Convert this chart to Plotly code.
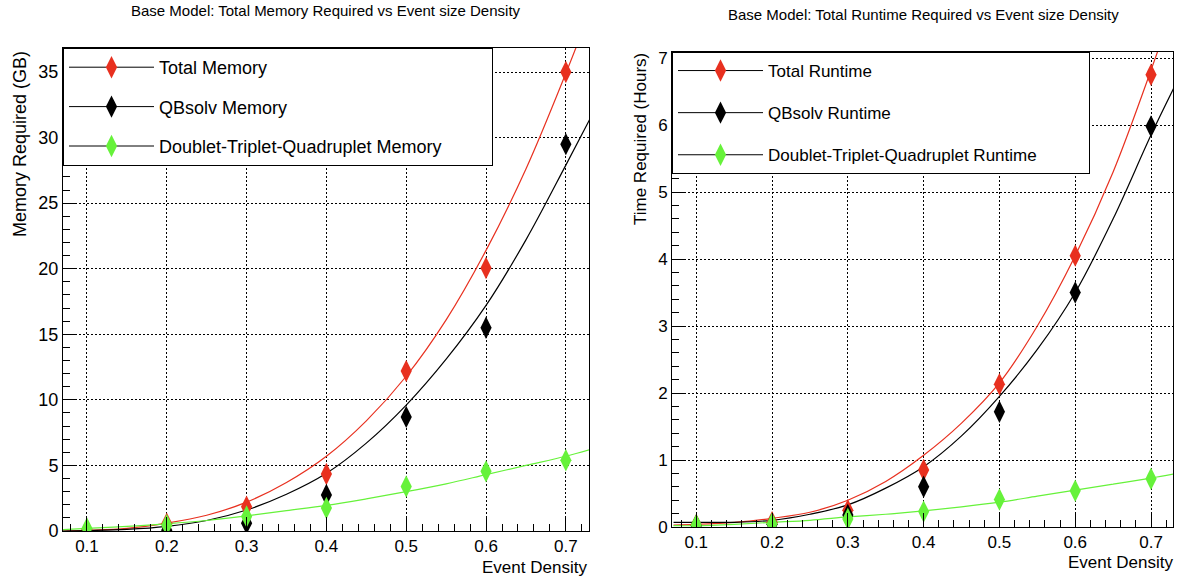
import plotly.graph_objects as go

# ---------------- data ----------------
density = [0.1, 0.2, 0.3, 0.4, 0.5, 0.6, 0.7]

# Memory (GB)
mem_total = [0.1, 0.55, 1.85, 4.35, 12.2, 20.05, 35.0]
mem_qbsolv = [0.0, 0.05, 0.6, 2.75, 8.7, 15.5, 29.5]
mem_dtq = [0.2, 0.45, 1.1, 1.75, 3.4, 4.55, 5.4]

# Runtime (hours)
run_total = [0.03, 0.07, 0.25, 0.85, 2.13, 4.05, 6.75]
run_qbsolv = [0.02, 0.04, 0.18, 0.6, 1.72, 3.5, 5.98]
run_dtq = [0.03, 0.05, 0.12, 0.23, 0.41, 0.54, 0.72]

# fitted curves
fit_x = [0.07, 0.1, 0.15, 0.2, 0.25, 0.3, 0.35, 0.4, 0.45, 0.5, 0.55, 0.6, 0.65, 0.7, 0.73]
fit_mem_total = [0.0, 0.05, 0.2, 0.6, 1.2, 2.2, 3.7, 5.7, 8.4, 11.8, 16.1, 21.4, 27.6, 34.9, 39.6]
fit_mem_qbsolv = [0.0, 0.03, 0.12, 0.35, 0.8, 1.6, 2.8, 4.4, 6.7, 9.6, 13.1, 17.2, 22.2, 27.9, 31.4]
fit_mem_dtq = [0.1, 0.2, 0.35, 0.55, 0.8, 1.15, 1.55, 1.95, 2.45, 3.0, 3.6, 4.3, 5.0, 5.7, 6.2]

fit_run_total = [0.03, 0.04, 0.07, 0.13, 0.22, 0.4, 0.68, 1.07, 1.55, 2.15, 3.0, 4.05, 5.3, 6.82, 7.8]
fit_run_qbsolv = [0.07, 0.07, 0.07, 0.1, 0.19, 0.33, 0.58, 0.9, 1.36, 1.95, 2.65, 3.5, 4.6, 5.85, 6.55]
fit_run_dtq = [0.02, 0.02, 0.04, 0.07, 0.1, 0.15, 0.19, 0.24, 0.3, 0.37, 0.46, 0.55, 0.64, 0.73, 0.79]

mem_names = ["Total Memory", "QBsolv Memory", "Doublet-Triplet-Quadruplet Memory"]
run_names = ["Total Runtime", "QBsolv Runtime", "Doublet-Triplet-Quadruplet Runtime"]

RED = "#e8301f"
BLACK = "#000000"
GREEN = "#66f23a"
colors = [RED, BLACK, GREEN]
FONT = "Liberation Sans, Arial, Helvetica, sans-serif"

fig = go.Figure()

def add_panel(xa, ya, legend, names, pts, fits, pad):
    # fitted curves
    for fy, c in zip(fits, colors):
        fig.add_trace(go.Scatter(x=fit_x, y=fy, mode="lines", line=dict(color=c, width=1.2, shape="spline"),
                                 xaxis=xa, yaxis=ya, showlegend=False, hoverinfo="skip"))
    # data points
    for py, c in zip(pts, colors):
        fig.add_trace(go.Scatter(x=density, y=py, mode="markers",
                                 marker=dict(symbol="diamond-tall", size=16, color=c),
                                 xaxis=xa, yaxis=ya, showlegend=False))
    # legend entries
    for i, (n, c) in enumerate(zip(names, colors)):
        fig.add_trace(go.Scatter(x=[None], y=[None], mode="lines+markers", name=n + pad,
                                 line=dict(color="black", width=1),
                                 marker=dict(symbol="diamond-tall", size=16, color=c),
                                 xaxis=xa, yaxis=ya, legend=legend, legendgroup=legend + str(i)))

add_panel("x", "y", "legend", mem_names, [mem_total, mem_qbsolv, mem_dtq],
          [fit_mem_total, fit_mem_qbsolv, fit_mem_dtq], "\u00a0" * 9)
add_panel("x2", "y2", "legend2", run_names, [run_total, run_qbsolv, run_dtq],
          [fit_run_total, fit_run_qbsolv, fit_run_dtq], "\u00a0" * 10)

W, H = 1180, 579

def px_x(v):
    return v / W

def px_y(v):
    return 1 - v / H

def axis_common(fs):
    return dict(showline=True, mirror=True, linecolor="black", linewidth=1, automargin=False,
                ticks="inside", tickcolor="black", showgrid=True, gridcolor="black",
                griddash="2px,2px", gridwidth=1, zeroline=False,
                tickfont=dict(family=FONT, size=fs, color="black"))

xticks = [0.1, 0.2, 0.3, 0.4, 0.5, 0.6, 0.7]

fig.update_layout(
    width=W, height=H, margin=dict(l=0, r=0, t=0, b=0, autoexpand=False),
    paper_bgcolor="white", plot_bgcolor="white",
    font=dict(family=FONT, color="black"),
    xaxis=dict(domain=[px_x(63), px_x(589)], range=[0.070, 0.729], anchor="y",
               tickvals=xticks, ticklen=14,
               minor=dict(ticks="inside", ticklen=7, dtick=0.02, tick0=0, tickcolor="black", showgrid=False),
               **axis_common(17)),
    yaxis=dict(domain=[px_y(531), px_y(48)], range=[0, 36.83], anchor="x",
               dtick=5, ticklen=14,
               minor=dict(ticks="inside", ticklen=7, dtick=1, tickcolor="black", showgrid=False),
               **axis_common(18)),
    xaxis2=dict(domain=[px_x(672), px_x(1173)], range=[0.068, 0.729], anchor="y2",
                tickvals=xticks, ticklen=14,
                minor=dict(ticks="inside", ticklen=7, dtick=0.02, tick0=0, tickcolor="black", showgrid=False),
                **axis_common(17)),
    yaxis2=dict(domain=[px_y(527), px_y(52)], range=[0, 7.09], anchor="x2",
                dtick=1, ticklen=14,
                minor=dict(ticks="inside", ticklen=7, dtick=0.2, tickcolor="black", showgrid=False),
                **axis_common(17)),
    legend=dict(x=px_x(63), y=px_y(48), xanchor="left", yanchor="top",
                bgcolor="white", bordercolor="black", borderwidth=1,
                font=dict(family=FONT, size=18, color="black"),
                tracegroupgap=13, itemwidth=85, itemsizing="trace"),
    legend2=dict(x=px_x(672), y=px_y(52), xanchor="left", yanchor="top",
                 bgcolor="white", bordercolor="black", borderwidth=1,
                 font=dict(family=FONT, size=17, color="black"),
                 tracegroupgap=17, itemwidth=85, itemsizing="trace"),
    showlegend=True,
)

annots = [
    dict(text="Base Model: Total Memory Required vs Event size Density", x=px_x(326), y=px_y(10),
         xanchor="center", yanchor="middle", font=dict(size=15)),
    dict(text="Base Model: Total Runtime Required vs Event size Density", x=px_x(923), y=px_y(14),
         xanchor="center", yanchor="middle", font=dict(size=15)),
    dict(text="Event Density", x=px_x(589), y=px_y(567), xanchor="right", yanchor="middle",
         font=dict(size=17)),
    dict(text="Event Density", x=px_x(1175), y=px_y(562), xanchor="right", yanchor="middle",
         font=dict(size=17)),
    dict(text="Memory Required (GB)", x=px_x(20), y=px_y(49), xanchor="center", yanchor="top",
         textangle=-90, font=dict(size=18)),
    dict(text="Time Required (Hours)", x=px_x(640), y=px_y(51), xanchor="center", yanchor="top",
         textangle=-90, font=dict(size=17)),
]
for a in annots:
    a.update(xref="paper", yref="paper", showarrow=False)
    a["font"].update(family=FONT, color="black")
fig.update_layout(annotations=annots)

fig.write_html("out.html")
